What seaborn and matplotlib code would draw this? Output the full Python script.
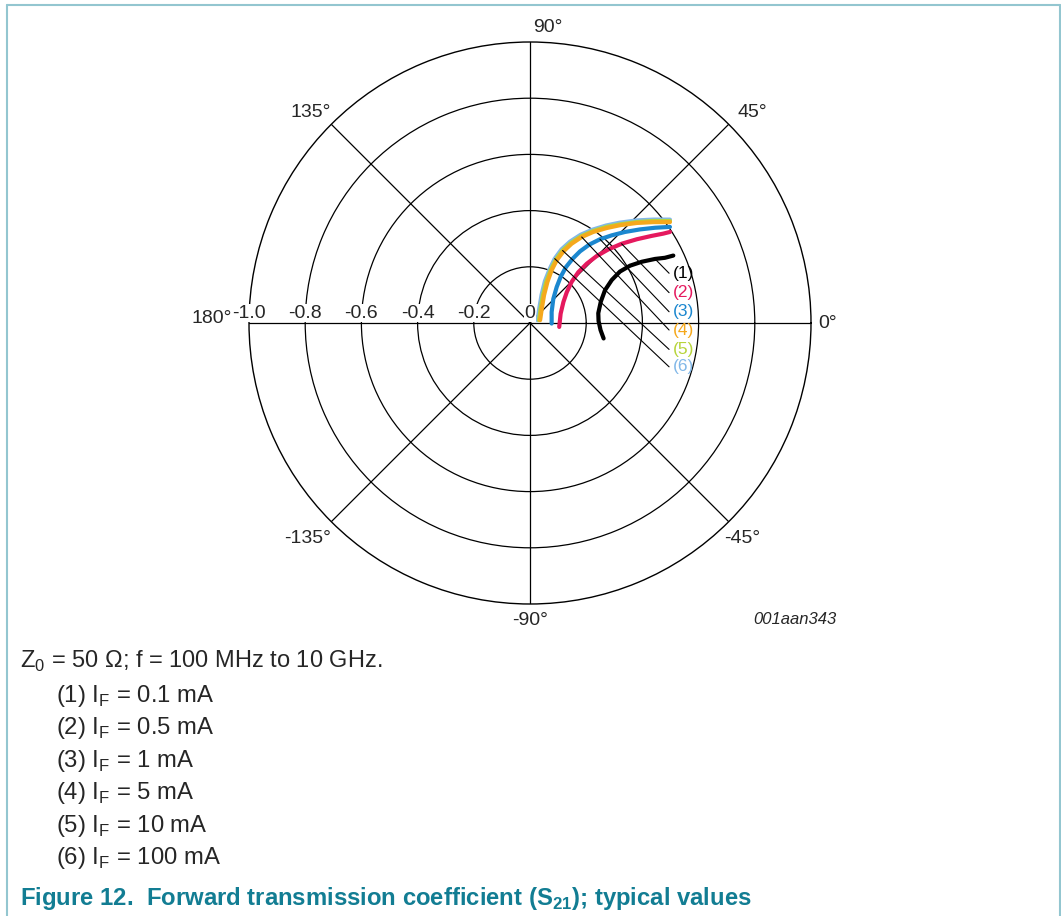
import numpy as np
import pandas as pd
import matplotlib
matplotlib.use('Agg')
import matplotlib.pyplot as plt
import seaborn as sns

re_1 = [0.262, 0.251, 0.244, 0.243, 0.252, 0.267, 0.291, 0.320, 0.356, 0.398, 0.445, 0.480, 0.510]
im_1 = [-0.055, -0.025, 0.007, 0.035, 0.076, 0.117, 0.153, 0.183, 0.204, 0.218, 0.228, 0.232, 0.240]
re_2 = [0.104, 0.109, 0.119, 0.131, 0.148, 0.172, 0.202, 0.237, 0.279, 0.326, 0.380, 0.433, 0.474, 0.498]
im_2 = [-0.014, 0.033, 0.075, 0.110, 0.146, 0.181, 0.211, 0.238, 0.262, 0.282, 0.298, 0.310, 0.318, 0.324]
re_3 = [0.077, 0.077, 0.083, 0.095, 0.109, 0.128, 0.152, 0.178, 0.211, 0.249, 0.291, 0.338, 0.391, 0.445, 0.498]
im_3 = [-0.002, 0.039, 0.086, 0.128, 0.164, 0.199, 0.229, 0.255, 0.279, 0.298, 0.312, 0.324, 0.333, 0.339, 0.342]
re_4 = [0.036, 0.042, 0.050, 0.062, 0.077, 0.095, 0.119, 0.148, 0.184, 0.225, 0.273, 0.320, 0.380, 0.439, 0.498]
im_4 = [0.010, 0.051, 0.099, 0.146, 0.188, 0.223, 0.255, 0.282, 0.306, 0.324, 0.338, 0.348, 0.356, 0.359, 0.359]
re_5 = [0.032, 0.038, 0.046, 0.058, 0.074, 0.092, 0.116, 0.146, 0.183, 0.224, 0.272, 0.320, 0.379, 0.439, 0.498]
im_5 = [0.010, 0.051, 0.099, 0.147, 0.189, 0.225, 0.258, 0.285, 0.309, 0.327, 0.342, 0.351, 0.359, 0.363, 0.363]
re_6 = [0.027, 0.033, 0.041, 0.053, 0.070, 0.088, 0.112, 0.143, 0.180, 0.222, 0.271, 0.319, 0.379, 0.439, 0.498]
im_6 = [0.010, 0.052, 0.100, 0.149, 0.192, 0.229, 0.262, 0.290, 0.314, 0.332, 0.347, 0.357, 0.365, 0.368, 0.368]

curve_labels = ['(1)', '(2)', '(3)', '(4)', '(5)', '(6)']
if_values = ['0.1', '0.5', '1', '5', '10', '100']
colors = ['#000000', '#e5195e', '#1b87cf', '#f5a81c', '#b7d43a', '#82b8e8']

# where the label leader lines touch each curve (point index) and label heights
leader_idx = [10, 9, 9, 8, 6, 5]
label_im = [0.177, 0.108, 0.040, -0.025, -0.094, -0.156]

r_ticks = [0.2, 0.4, 0.6, 0.8, 1.0]
r_ticklabels = ['-0.2', '-0.4', '-0.6', '-0.8', '-1.0']
angle_ticks = [0, 45, 90, 135, 180, 225, 270, 315]

sns.set_style('white')
plt.rcParams['font.family'] = ['Liberation Sans', 'DejaVu Sans']
plt.rcParams['mathtext.fontset'] = 'custom'
plt.rcParams['mathtext.rm'] = 'Liberation Sans'

res = [re_1, re_2, re_3, re_4, re_5, re_6]
ims = [im_1, im_2, im_3, im_4, im_5, im_6]
frames = []
for lab, re, im in zip(curve_labels, res, ims):
    z = np.array(re) + 1j * np.array(im)
    frames.append(pd.DataFrame({'theta': np.angle(z), 'r': np.abs(z), 'curve': lab}))
df = pd.concat(frames, ignore_index=True)

W, H = 1061, 916
fig = plt.figure(figsize=(W / 100, H / 100), dpi=100)
ax = fig.add_axes([249 / W, 1 - 604 / H, 562 / W, 562 / H], projection='polar')

# (6) drawn first so (4) sits on top of the light blue / green pair
sns.lineplot(data=df, x='theta', y='r', hue='curve', hue_order=curve_labels[::-1],
             palette=dict(zip(curve_labels, colors)), sort=False,
             estimator=None, lw=3.0, legend=False, ax=ax)

ax.set_ylim(0, 1)
ax.set_xticks(np.deg2rad(angle_ticks))
ax.set_xticklabels([])
ax.set_yticks(r_ticks[:-1])
ax.set_yticklabels([])
ax.set_xlabel('')
ax.set_ylabel('')
ax.grid(True, color='black', lw=0.9)
ax.spines['polar'].set_color('black')
ax.spines['polar'].set_linewidth(1.0)

# radial scale written along the 180 deg line
for r, lab in zip([0] + r_ticks, ['0'] + r_ticklabels):
    ax.annotate(lab, xy=(np.pi, r), xytext=(0, 3.8), textcoords='offset points',
                ha='center', va='baseline', fontsize=14,
                bbox=dict(facecolor='white', edgecolor='none', pad=0.5))

# angle labels
ang_text = [('90°', 86.5, 1.052), ('45°', 43.4, 1.088), ('135°', 136.3, 1.082),
            ('0°', 0, 1.06), ('-45°', -45.4, 1.075), ('-135°', -135.9, 1.10),
            ('-90°', -90, 1.06)]
for lab, a, r in ang_text:
    ax.text(np.deg2rad(a), r, lab, ha='center', va='center', fontsize=14)
ax.text(np.pi, 1.06, '180°', ha='right', va='baseline', fontsize=14)

# curve labels with leader lines
for i in range(6):
    z = res[i][leader_idx[i]] + 1j * ims[i][leader_idx[i]]
    zl = 0.495 + 1j * label_im[i]
    zt = 0.507 + 1j * label_im[i]
    ax.annotate('', xy=(np.angle(z), abs(z)), xytext=(np.angle(zl), abs(zl)),
                arrowprops=dict(arrowstyle='-', lw=0.8, color='black', shrinkA=0, shrinkB=0))
    ax.text(np.angle(zt), abs(zt), curve_labels[i], color=colors[i],
            ha='left', va='center', fontsize=12.5)

fig.text(795 / W, 1 - 620 / H, '001aan343', style='italic', fontsize=12,
         ha='center', va='center')

# caption block
fig.text(20 / W, 1 - 668 / H, r'Z$_\mathregular{0}$ = 50 Ω; f = 100 MHz to 10 GHz.', fontsize=17,
         ha='left', va='baseline')
for i in range(6):
    fig.text(56 / W, 1 - (702 + 32.4 * i) / H,
             curve_labels[i] + r' I$_\mathregular{F}$ = ' + if_values[i] + ' mA',
             fontsize=17.2, ha='left', va='baseline')
fig.text(20 / W, 1 - 905 / H,
         r'Figure 12.  Forward transmission coefficient (S$_\mathregular{21}$); typical values',
         fontsize=17.2, fontweight='bold', color='#127d93', ha='left', va='baseline')

# page frame
fc = '#93c6d0'
fig.add_artist(plt.Line2D([7 / W, 7 / W], [0, 1 - 5 / H], transform=fig.transFigure, color=fc, lw=1.5))
fig.add_artist(plt.Line2D([7 / W, 1059.5 / W], [1 - 5 / H, 1 - 5 / H], transform=fig.transFigure, color=fc, lw=1.5))
fig.add_artist(plt.Line2D([1059.5 / W, 1059.5 / W], [0, 1 - 5 / H], transform=fig.transFigure, color=fc, lw=1.5))

fig.savefig('out.png', dpi=100)
